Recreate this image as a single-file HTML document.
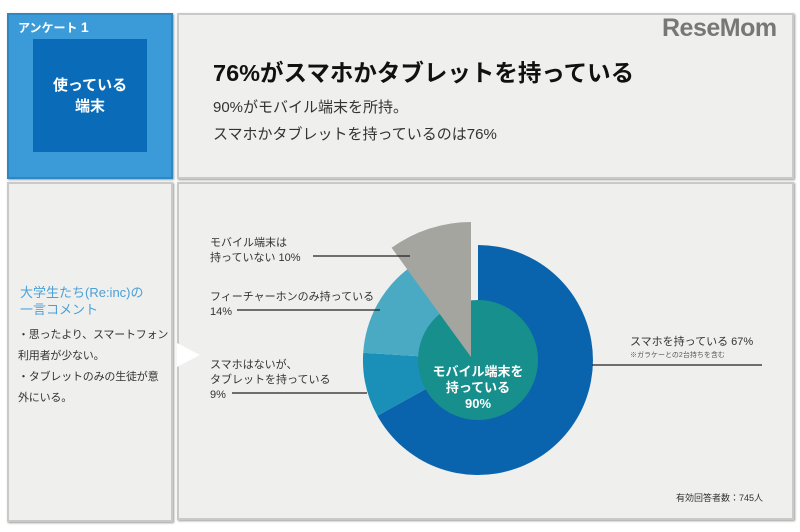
<!DOCTYPE html>
<html><head><meta charset="utf-8"><style>
*{margin:0;padding:0;box-sizing:border-box}
body{width:800px;height:532px;background:#fff;position:relative;overflow:hidden;font-family:"Liberation Sans","Noto Sans CJK JP",sans-serif;color:#222}
.p{position:absolute;background:#efefed;border:2px solid #c9c9c7;box-shadow:1px 1px 2px #999}
.t{position:absolute;white-space:nowrap}
</style></head><body>
<div class="p" style="left:7px;top:13px;width:166px;height:166px;background:#3b9bd8;border-color:#2f86c0"></div>
<div class="t" style="left:18px;top:19px;font-size:12px;color:#fff;font-weight:bold">アンケート <span style="font-size:14px">1</span></div>
<div style="position:absolute;left:33px;top:39px;width:114px;height:113px;background:#0a6cb8"></div>
<div class="t" style="left:33px;top:75px;width:114px;text-align:center;color:#fff;font-weight:bold;font-size:15px;line-height:21px">使っている<br>端末</div>
<div class="p" style="left:177px;top:13px;width:617px;height:166px"></div>
<div class="t" style="left:662px;top:14px;font-size:25px;font-weight:bold;color:#777;letter-spacing:-0.5px">ReseMom</div>
<div class="t" style="left:213px;top:54px;font-size:23.5px;font-weight:bold;color:#111">76%がスマホかタブレットを持っている</div>
<div class="t" style="left:213px;top:94px;font-size:15px;color:#333;line-height:27px">90%がモバイル端末を所持。<br>スマホかタブレットを持っているのは76%</div>
<div class="p" style="left:7px;top:182px;width:166px;height:340px"></div>
<div class="p" style="left:177px;top:182px;width:617px;height:338px"></div>
<div class="t" style="left:20px;top:284px;font-size:13px;color:#4aa0d8;line-height:17px">大学生たち(Re:inc)の<br>一言コメント</div>
<div class="t" style="left:18px;top:325px;font-size:11px;letter-spacing:-0.2px;color:#333;line-height:21px">・思ったより、スマートフォン<br>利用者が少ない。<br>・タブレットのみの生徒が意<br>外にいる。</div>
<svg style="position:absolute;left:0;top:0" width="800" height="532">
<polygon points="177,343 200,355 177,367" fill="#fff"/>
<path d="M478,360 L478,245 A115,115 0 1 1 377.4,415.8 Z" fill="#0a64ad"/>
<path d="M478,360 L377.4,415.8 A115,115 0 0 1 363.2,352.8 Z" fill="#1a8fb8"/>
<path d="M478,360 L363.2,352.8 A115,115 0 0 1 410.4,267 Z" fill="#4aaac4"/>
<line x1="478" y1="360" x2="410.4" y2="267" stroke="#efefed" stroke-width="4"/>
<circle cx="478" cy="360" r="60" fill="#178f8c"/>
<path d="M471,357 L391.6,247.8 A135,135 0 0 1 471,222 Z" fill="#a5a5a0"/>
<g stroke="#222" stroke-width="1.2">
<line x1="313" y1="256" x2="410" y2="256"/>
<line x1="237" y1="310" x2="380" y2="310"/>
<line x1="232" y1="393" x2="367" y2="393"/>
<line x1="592" y1="365" x2="762" y2="365"/>
</g>
</svg>
<div class="t" style="left:430px;top:364px;width:96px;text-align:center;color:#fff;font-weight:bold;font-size:13px;line-height:16px">モバイル端末を<br>持っている<br>90%</div>
<div class="t" style="left:210px;top:236px;font-size:11px;line-height:15px;color:#333">モバイル端末は<br>持っていない 10%</div>
<div class="t" style="left:210px;top:290px;font-size:11px;line-height:15px;color:#333">フィーチャーホンのみ持っている<br>14%</div>
<div class="t" style="left:210px;top:358px;font-size:11px;line-height:15px;color:#333">スマホはないが、<br>タブレットを持っている<br>9%</div>
<div class="t" style="left:630px;top:333px;font-size:11px;color:#333">スマホを持っている 67%</div>
<div class="t" style="left:630px;top:350px;font-size:7px;color:#555">※ガラケーとの2台持ちを含む</div>
<div class="t" style="left:676px;top:491px;font-size:9px;color:#333">有効回答者数：745人</div>
</body></html>
